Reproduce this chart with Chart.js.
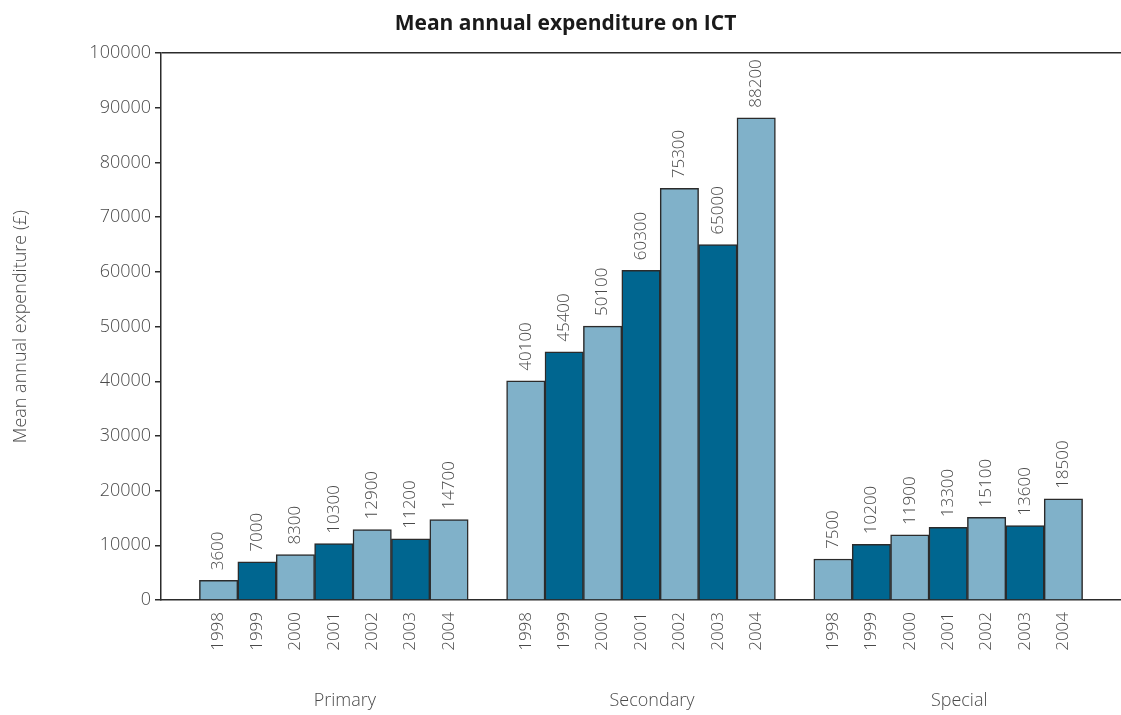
<!DOCTYPE html>
<html lang="en">
<head>
    <meta charset="UTF-8">
    <title>Mean annual expenditure on ICT</title>
    <style>
        * { margin: 0; padding: 0; box-sizing: border-box; }
        body { background: #ffffff; width: 1121px; height: 715px; overflow: hidden; }
        #grafico { display: block; }
    </style>
    <script src="https://cdn.jsdelivr.net/npm/chart.js"></script>
</head>
<body>
    <canvas id="grafico" width="1121" height="715"></canvas>
    <script>
        const groups = ['Primary', 'Secondary', 'Special'];
        const years = ['1998', '1999', '2000', '2001', '2002', '2003', '2004'];
        const primary = [3600, 7000, 8300, 10300, 12900, 11200, 14700];
        const secondary = [40100, 45400, 50100, 60300, 75300, 65000, 88200];
        const special = [7500, 10200, 11900, 13300, 15100, 13600, 18500];
        const yTicks = [0, 10000, 20000, 30000, 40000, 50000, 60000, 70000, 80000, 90000, 100000];

        const light = '#80b1c9';
        const dark = '#006690';
        const textColor = '#4a4a4a';
        const fontFamily = "'Open Sans', 'Noto Sans', sans-serif";

        // one empty slot before each group and one at the end
        const labels = [];
        const values = [];
        const colors = [];
        const groupMiddle = [];
        [primary, secondary, special].forEach((serie) => {
            labels.push('');
            values.push(null);
            colors.push(light);
            serie.forEach((v, i) => {
                if (i === 3) groupMiddle.push(labels.length);
                labels.push(years[i]);
                values.push(v);
                colors.push(i % 2 === 0 ? light : dark);
            });
        });
        labels.push('');
        values.push(null);
        colors.push(light);

        const rotuloValores = {
            id: 'rotuloValores',
            afterDatasetsDraw(chart) {
                const ctx = chart.ctx;
                const meta = chart.getDatasetMeta(0);
                ctx.save();
                ctx.font = '300 17px ' + fontFamily;
                ctx.fillStyle = textColor;
                ctx.textAlign = 'left';
                ctx.textBaseline = 'middle';
                meta.data.forEach((bar, i) => {
                    if (values[i] === null) return;
                    ctx.save();
                    ctx.translate(bar.x, bar.y - 10);
                    ctx.rotate(-Math.PI / 2);
                    ctx.fillText(String(values[i]), 0, 0);
                    ctx.restore();
                });
                ctx.restore();
            }
        };

        const rotuloGrupos = {
            id: 'rotuloGrupos',
            afterDraw(chart) {
                const ctx = chart.ctx;
                const x = chart.scales.x;
                ctx.save();
                ctx.font = '300 18px ' + fontFamily;
                ctx.fillStyle = textColor;
                ctx.textAlign = 'center';
                ctx.textBaseline = 'middle';
                groups.forEach((g, i) => {
                    ctx.fillText(g, x.getPixelForValue(groupMiddle[i]) + 11, 701);
                });
                ctx.restore();
            }
        };

        const ctx = document.getElementById('grafico').getContext('2d');
        new Chart(ctx, {
            type: 'bar',
            data: {
                labels: labels,
                datasets: [{
                    data: values,
                    backgroundColor: colors,
                    borderColor: '#2b2b2b',
                    borderWidth: 1.5,
                    barPercentage: 1,
                    categoryPercentage: 1
                }]
            },
            options: {
                responsive: false,
                animation: false,
                layout: { padding: { left: 10, right: 0, top: 0, bottom: 0 } },
                plugins: {
                    legend: { display: false },
                    tooltip: { enabled: false },
                    title: {
                        display: true,
                        text: 'Mean annual expenditure on ICT',
                        color: '#1a1a1a',
                        font: { family: fontFamily, size: 21, weight: 'bold' },
                        padding: { top: 11, bottom: 17 }
                    }
                },
                scales: {
                    x: {
                        afterFit: (s) => {
                            s.height = 115;
                            s.paddingLeft = 0;
                            s.paddingRight = 0;
                        },
                        grid: { drawOnChartArea: false, drawTicks: false },
                        border: { color: '#2b2b2b', width: 1.5 },
                        ticks: {
                            autoSkip: false,
                            minRotation: 90,
                            maxRotation: 90,
                            padding: 12,
                            color: textColor,
                            font: { family: fontFamily, size: 17, weight: 300 }
                        }
                    },
                    y: {
                        min: 0,
                        max: 100000,
                        afterFit: (s) => { s.width = 151; },
                        afterBuildTicks: (s) => { s.ticks = yTicks.map((v) => ({ value: v })); },
                        grid: {
                            color: (c) => (c.tick && c.tick.value === 100000 ? '#2b2b2b' : 'transparent'),
                            tickColor: '#2b2b2b',
                            tickLength: 6,
                            lineWidth: 1.5
                        },
                        border: { color: '#2b2b2b', width: 1.5 },
                        ticks: {
                            padding: 4,
                            color: textColor,
                            font: { family: fontFamily, size: 18, weight: 300 },
                            callback: (v) => String(v)
                        },
                        title: {
                            display: true,
                            text: 'Mean annual expenditure (£)',
                            color: textColor,
                            font: { family: fontFamily, size: 18, weight: 300 },
                            padding: 0
                        }
                    }
                }
            },
            plugins: [rotuloValores, rotuloGrupos]
        });
    </script>
</body>
</html>
